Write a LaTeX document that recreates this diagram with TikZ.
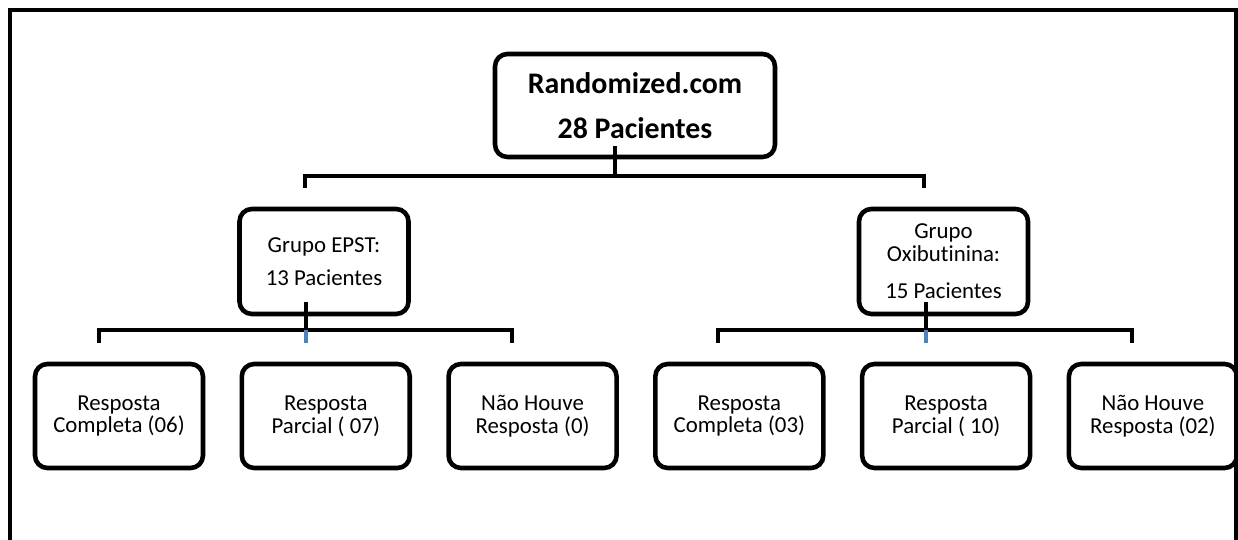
\documentclass[tikz,border=0pt]{standalone}
\usepackage{fontspec}
\setmainfont{Carlito}[Ligatures=NoCommon]
\usepackage{tikz}
\usetikzlibrary{positioning,calc}

\definecolor{stubblue}{HTML}{4F81BD}

\begin{document}
\begin{tikzpicture}[
  x=0.02cm, y=-0.02cm,
  node distance=0.685cm,
  % Rounded boxes with heavy outline
  box/.style={rectangle, rounded corners=7pt, draw,
    line width=2.6pt, minimum width=3.36cm, minimum height=2.08cm,
    align=center, inner sep=2pt, font=\fontsize{13}{13}\selectfont},
  % The root box is wider and bold
  rootbox/.style={box, minimum width=5.6cm, minimum height=2.06cm,
    font=\fontsize{17}{26}\selectfont\bfseries},
  groupbox/.style={box, minimum width=3.38cm, minimum height=2.1cm,
    font=\fontsize{13}{13}\selectfont},
  % Elbow connectors
  link/.style={draw, line width=2.4pt},
  stub/.style={draw, line width=2.4pt, stubblue},
  frame/.style={draw, line width=2pt},
]
  \useasboundingbox (0,0) rectangle (1238,540);

  % === Outer frame (open at the bottom) ===
  \draw[frame] (10,540) -- (10,10) -- (1236,10) -- (1236,540);

  % === Level 1 ===
  \node[rootbox] (root) at (635,105.5) {Randomized.com\\28 Pacientes};

  % === Level 2: groups ===
  \node[groupbox] (epst) at (324,261.5) {Grupo EPST:\\[6pt]13 Pacientes};
  \node[groupbox] (oxi) at (943.5,261.5) {Grupo\\Oxibutinina:\\[8pt]15 Pacientes};

  % === Level 3: outcomes ===
  \node[box] (epstc) at (119,416) {Resposta\\Completa (06)};
  \node[box,right=of epstc] (epstp) {Resposta\\Parcial ( 07)};
  \node[box,right=of epstp] (epstn) {Não Houve\\Resposta (0)};
  \node[box,right=of epstn] (oxic) {Resposta\\Completa (03)};
  \node[box,right=of oxic] (oxip) {Resposta\\Parcial ( 10)};
  \node[box,right=of oxip] (oxin) {Não Houve\\Resposta (02)};

  % === Junction points ===
  \coordinate (rootbar) at (615,176);
  \coordinate (epstdrop) at (305,188);
  \coordinate (oxidrop) at (924,188);
  \coordinate (epstbar) at (306,330);
  \coordinate (oxibar) at (926,330);
  \coordinate (epstcdrop) at (99,343);
  \coordinate (epstpdrop) at (306,343);
  \coordinate (epstndrop) at (512,343);
  \coordinate (oxicdrop) at (718,343);
  \coordinate (oxipdrop) at (926,343);
  \coordinate (oxindrop) at (1132,343);

  % === Edges: root -> groups ===
  \draw[link] ($(root.south -| rootbar)+(0,-13)$) -- (rootbar);
  \draw[link] (epstdrop) |- (rootbar) -| (oxidrop);

  % === Edges: EPST -> outcomes ===
  \draw[link] ($(epst.south -| epstbar)+(0,-14)$) -- (epstbar);
  \draw[link] (epstcdrop) |- (epstbar) -| (epstndrop);
  \draw[stub] (epstbar) -- (epstpdrop);

  % === Edges: Oxibutinina -> outcomes ===
  \draw[link] ($(oxi.south -| oxibar)+(0,-14)$) -- (oxibar);
  \draw[link] (oxicdrop) |- (oxibar) -| (oxindrop);
  \draw[stub] (oxibar) -- (oxipdrop);
\end{tikzpicture}
\end{document}
